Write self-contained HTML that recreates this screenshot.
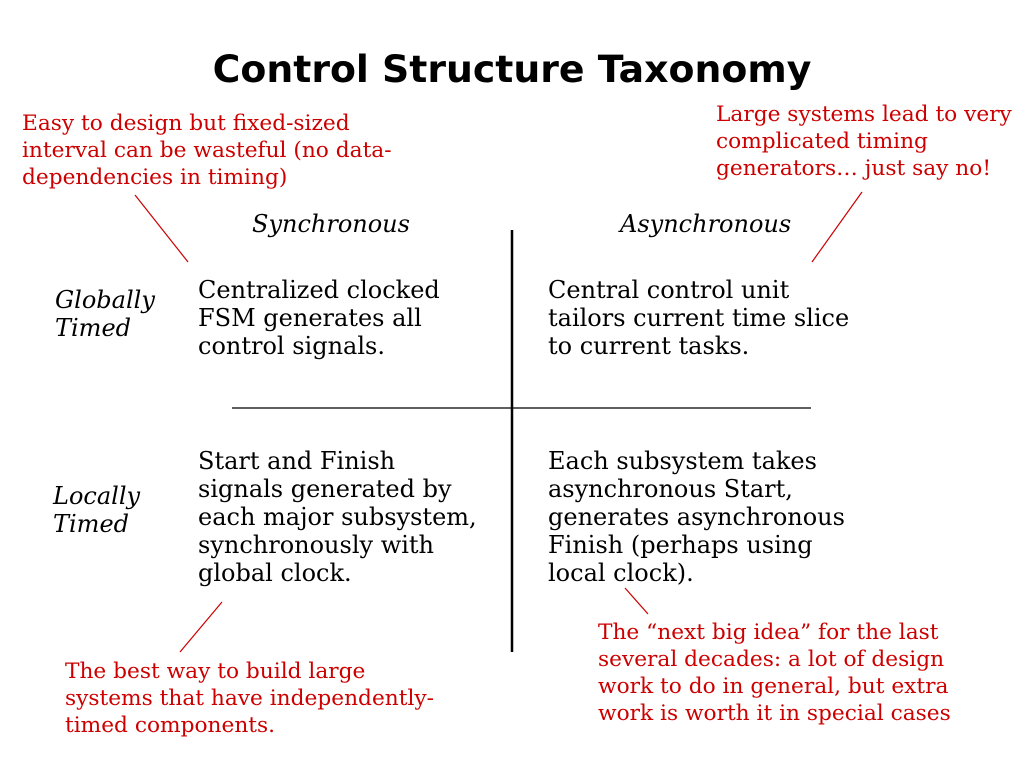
<!DOCTYPE html>
<html><head><meta charset="utf-8"><style>
body{margin:0;width:1024px;height:768px;background:#fff;position:relative;overflow:hidden}
div{position:absolute;white-space:pre}
.t{font-family:"DejaVu Sans","Liberation Sans",sans-serif;font-weight:bold;font-size:37.8px;left:0;width:1024px;text-align:center;top:47px;white-space:normal}
.b{font-family:"DejaVu Serif","Liberation Serif",serif;font-size:24px;line-height:28px;color:#000}
.i{font-style:italic}
.r{font-family:"DejaVu Serif","Liberation Serif",serif;font-size:21.7px;line-height:27px;color:#c00}
</style></head><body>
<div class="t">Control Structure Taxonomy</div>
<div class="r" style="left:22px;top:110px">Easy to design but fixed-sized
interval can be wasteful (no data-
dependencies in timing)</div>
<div class="r" style="left:716px;top:101px">Large systems lead to very
complicated timing
generators… just say no!</div>
<div class="b i" style="left:252px;top:210px">Synchronous</div>
<div class="b i" style="left:620px;top:210px">Asynchronous</div>
<div class="b i" style="left:55px;top:286px">Globally
Timed</div>
<div class="b" style="left:198px;top:276px">Centralized clocked
FSM generates all
control signals.</div>
<div class="b" style="left:548px;top:276px">Central control unit
tailors current time slice
to current tasks.</div>
<div class="b i" style="left:53px;top:482px">Locally
Timed</div>
<div class="b" style="left:198px;top:447px">Start and Finish
signals generated by
each major subsystem,
synchronously with
global clock.</div>
<div class="b" style="left:548px;top:447px">Each subsystem takes
asynchronous Start,
generates asynchronous
Finish (perhaps using
local clock).</div>
<div class="r" style="left:65px;top:658px">The best way to build large
systems that have independently-
timed components.</div>
<div class="r" style="left:598px;top:619px">The “next big idea” for the last
several decades: a lot of design
work to do in general, but extra
work is worth it in special cases</div>
<svg width="1024" height="768" style="position:absolute;left:0;top:0">
<line x1="512" y1="230" x2="512" y2="652" stroke="#000" stroke-width="2.5"/>
<line x1="232" y1="408" x2="811" y2="408" stroke="#000" stroke-width="1.2"/>
<g stroke="#c00" stroke-width="1.2">
<line x1="135" y1="195" x2="188" y2="262"/>
<line x1="862" y1="192" x2="812" y2="262"/>
<line x1="222" y1="602" x2="180" y2="652"/>
<line x1="625" y1="588" x2="648" y2="614"/>
</g></svg>
</body></html>
